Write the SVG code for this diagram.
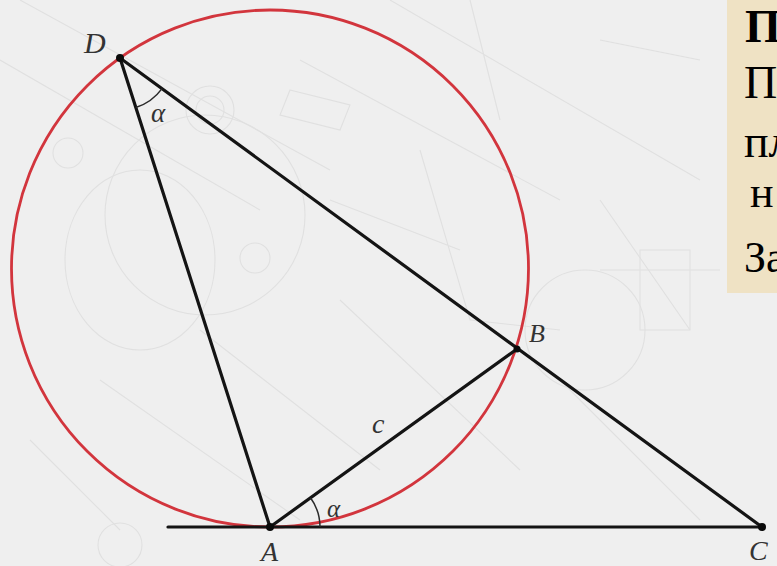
<svg xmlns="http://www.w3.org/2000/svg" width="777" height="566" viewBox="0 0 777 566">
<style>
.bg-sketch{fill:none;stroke:#e0e0e0;stroke-width:1.1}
.line{stroke:#141414;stroke-width:3.2;stroke-linecap:round;fill:none}
.arc{stroke:#2a2a2a;stroke-width:1.5;fill:none}
.lbl{font-family:"Liberation Serif","Times New Roman",serif;font-style:italic;fill:#333}
.dot{fill:#0a0a0a}
.box-text{font-family:"Liberation Serif","Times New Roman",serif;fill:#000}
</style>
<rect x="0" y="0" width="777" height="566" fill="#efefef"/>
<g id="background-sketch" class="bg-sketch">
<circle cx="205" cy="215" r="100"/>
<circle cx="210" cy="110" r="24"/>
<circle cx="210" cy="110" r="14"/>
<circle cx="68" cy="153" r="15"/>
<circle cx="255" cy="258" r="15"/>
<ellipse cx="140" cy="260" rx="75" ry="90"/>
<path d="M0 60 L260 210 M20 0 L330 170 M300 60 L560 200 M390 0 L700 180 M290 90 L350 105 L340 130 L280 115 Z M330 200 L460 250 M420 150 L470 320 L560 330 M600 200 L690 330 M100 380 L300 520 M200 330 L380 470 M340 300 L520 470 M560 380 L700 520 M30 440 L120 530 M470 0 L500 120 M600 40 L700 60"/>
<circle cx="585" cy="330" r="60"/>
<circle cx="120" cy="545" r="22"/>
<path d="M640 250 L690 250 L690 330 L640 330 Z M600 270 L720 270"/>
</g>
<g id="info-box">
<rect x="727" y="0" width="50" height="293" fill="#efe2c4"/>
<text class="box-text" x="745" y="42" font-size="46" font-weight="bold">П</text>
<text class="box-text" x="744" y="98" font-size="46">П</text>
<text class="box-text" x="744" y="157" font-size="46">пл</text>
<text class="box-text" x="750" y="207" font-size="44">н</text>
<text class="box-text" x="744" y="272" font-size="44">За</text>
</g>
<g id="circle">
<circle cx="270" cy="268.5" r="258.5" fill="none" stroke="#d2353d" stroke-width="2.8"/>
</g>
<g id="connectors">
<line class="line" x1="168" y1="527" x2="762" y2="527"/>
<line class="line" x1="120" y1="58" x2="270" y2="527"/>
<line class="line" x1="120" y1="58" x2="762" y2="527"/>
<line class="line" x1="270" y1="527" x2="517" y2="349"/>
<path class="arc" d="M162 88.6 A52 52 0 0 1 135.8 107.5"/>
<path class="arc" d="M320 527 A50 50 0 0 0 310.5 497.8" stroke="#2f4a38"/>
</g>
<g id="node-D">
<circle class="dot" cx="120" cy="58" r="4"/>
<text class="lbl" x="84" y="53" font-size="30">D</text>
</g>
<g id="node-B">
<circle class="dot" cx="517" cy="349" r="3.5"/>
<text class="lbl" x="529" y="342" font-size="26">B</text>
</g>
<g id="node-A">
<circle class="dot" cx="270" cy="527" r="4"/>
<text class="lbl" x="261" y="561" font-size="28">A</text>
</g>
<g id="node-C">
<circle class="dot" cx="762" cy="527" r="4"/>
<text class="lbl" x="749" y="560" font-size="28">C</text>
</g>
<g id="labels">
<text class="lbl" x="151" y="122" font-size="27">α</text>
<text class="lbl" x="327" y="517" font-size="25">α</text>
<text class="lbl" x="372" y="433" font-size="28">c</text>
</g>
</svg>
